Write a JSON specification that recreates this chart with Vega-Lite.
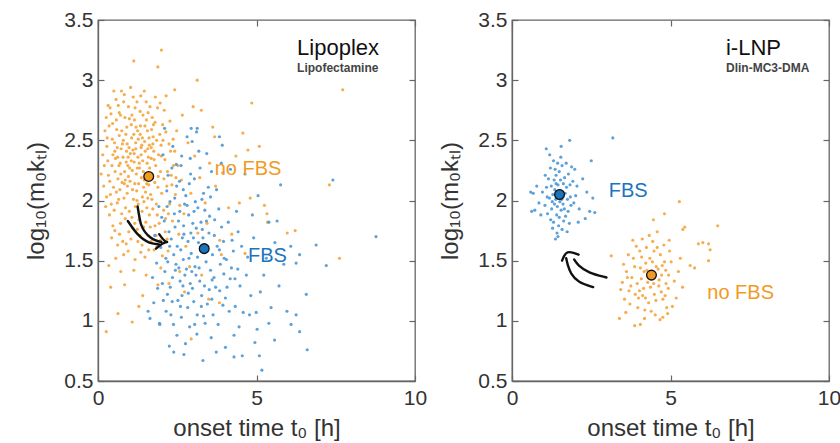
{
"$schema": "https://vega.github.io/schema/vega-lite/v6.json",
"padding": {"left": 24, "top": 8, "right": 5, "bottom": 0},
"background": "white",
"config": {
  "font": "Liberation Sans",
  "view": {"stroke": "#666", "strokeWidth": 1.3},
  "axis": {"domainColor": "#666", "domainWidth": 1.3, "tickColor": "#666", "tickSize": -6, "tickWidth": 1.2, "grid": false, "labelFontSize": 21, "titleFontSize": 24, "labelColor": "#333", "titleColor": "#333", "titleFontWeight": "normal", "labelFlush": false, "labelOverlap": false, "format": "~f"},
  "axisX": {"titlePadding": 8, "labelPadding": 12},
  "axisY": {"titlePadding": 15, "labelPadding": 11},
  "concat": {"spacing": 10}
},
"datasets": {
"LO": [
{"x":0.35,"y":2.62},{"x":0.52,"y":2.48},{"x":0.71,"y":2.71},{"x":0.88,"y":2.55},{"x":1.02,"y":2.39},{"x":1.15,"y":2.67},{"x":1.27,"y":2.51},{"x":1.41,"y":2.33},{"x":1.56,"y":2.58},{"x":1.68,"y":2.44},
{"x":0.44,"y":2.29},{"x":0.63,"y":2.18},{"x":0.79,"y":2.36},{"x":0.93,"y":2.12},{"x":1.08,"y":2.25},{"x":1.22,"y":2.08},{"x":1.37,"y":2.19},{"x":1.49,"y":2.41},{"x":1.63,"y":2.27},{"x":1.79,"y":2.15},
{"x":0.28,"y":2.45},{"x":0.57,"y":2.84},{"x":0.74,"y":2.91},{"x":0.96,"y":2.78},{"x":1.11,"y":2.86},{"x":1.33,"y":2.74},{"x":1.52,"y":2.82},{"x":1.71,"y":2.69},{"x":1.88,"y":2.77},{"x":2.04,"y":2.63},
{"x":0.39,"y":2.05},{"x":0.61,"y":1.98},{"x":0.82,"y":2.02},{"x":0.99,"y":1.91},{"x":1.18,"y":1.95},{"x":1.29,"y":1.84},{"x":1.45,"y":1.99},{"x":1.62,"y":1.88},{"x":1.84,"y":1.97},{"x":2.01,"y":2.06},
{"x":0.47,"y":1.79},{"x":0.68,"y":1.72},{"x":0.86,"y":1.85},{"x":1.04,"y":1.68},{"x":1.24,"y":1.76},{"x":1.39,"y":1.63},{"x":1.58,"y":1.71},{"x":1.77,"y":1.59},{"x":1.93,"y":1.81},{"x":2.12,"y":1.74},
{"x":0.55,"y":2.35},{"x":0.77,"y":2.47},{"x":0.91,"y":2.61},{"x":1.06,"y":2.52},{"x":1.19,"y":2.43},{"x":1.34,"y":2.62},{"x":1.47,"y":2.49},{"x":1.59,"y":2.36},{"x":1.74,"y":2.53},{"x":1.91,"y":2.38},
{"x":0.33,"y":2.21},{"x":0.49,"y":2.11},{"x":0.66,"y":2.29},{"x":0.84,"y":2.24},{"x":1.01,"y":2.16},{"x":1.14,"y":2.32},{"x":1.31,"y":2.27},{"x":1.44,"y":2.11},{"x":1.66,"y":2.05},{"x":1.82,"y":2.29},
{"x":0.22,"y":2.58},{"x":0.41,"y":2.72},{"x":0.59,"y":2.59},{"x":0.73,"y":2.43},{"x":0.89,"y":2.32},{"x":1.07,"y":2.71},{"x":1.25,"y":2.58},{"x":1.38,"y":2.46},{"x":1.53,"y":2.67},{"x":1.69,"y":2.59},
{"x":0.51,"y":1.92},{"x":0.69,"y":2.09},{"x":0.87,"y":1.94},{"x":1.12,"y":2.01},{"x":1.28,"y":2.14},{"x":1.43,"y":2.24},{"x":1.57,"y":2.02},{"x":1.73,"y":1.93},{"x":1.89,"y":2.11},{"x":2.07,"y":1.92},
{"x":0.62,"y":1.63},{"x":0.81,"y":1.55},{"x":0.97,"y":1.74},{"x":1.16,"y":1.81},{"x":1.35,"y":1.57},{"x":1.51,"y":1.82},{"x":1.67,"y":1.66},{"x":1.86,"y":1.62},{"x":2.03,"y":1.54},{"x":2.18,"y":1.68},
{"x":0.36,"y":1.88},{"x":0.45,"y":2.51},{"x":0.58,"y":2.67},{"x":0.72,"y":2.22},{"x":0.85,"y":2.69},{"x":0.98,"y":2.44},{"x":1.13,"y":2.55},{"x":1.26,"y":2.36},{"x":1.42,"y":2.71},{"x":1.61,"y":2.52},
{"x":1.76,"y":2.41},{"x":1.95,"y":2.55},{"x":2.11,"y":2.34},{"x":2.24,"y":2.47},{"x":2.31,"y":2.21},{"x":2.17,"y":2.12},{"x":2.26,"y":1.97},{"x":2.38,"y":2.29},{"x":2.44,"y":2.05},{"x":2.35,"y":1.83},
{"x":0.31,"y":2.33},{"x":0.53,"y":2.41},{"x":0.76,"y":2.15},{"x":0.94,"y":2.29},{"x":1.09,"y":2.09},{"x":1.21,"y":2.22},{"x":1.36,"y":2.38},{"x":1.54,"y":2.14},{"x":1.72,"y":2.21},{"x":1.97,"y":2.24},
{"x":0.26,"y":2.69},{"x":0.64,"y":2.79},{"x":0.83,"y":2.88},{"x":1.03,"y":2.94},{"x":1.23,"y":2.82},{"x":1.46,"y":2.91},{"x":1.64,"y":2.78},{"x":1.81,"y":2.86},{"x":2.09,"y":2.75},{"x":2.27,"y":2.66},
{"x":0.43,"y":1.69},{"x":0.56,"y":1.52},{"x":0.78,"y":1.66},{"x":0.95,"y":1.58},{"x":1.17,"y":1.51},{"x":1.32,"y":1.71},{"x":1.48,"y":1.53},{"x":1.65,"y":1.78},{"x":1.83,"y":1.71},{"x":2.21,"y":1.58},
{"x":0.18,"y":2.12},{"x":0.24,"y":1.95},{"x":0.15,"y":2.38},{"x":0.38,"y":2.77},{"x":0.67,"y":2.54},{"x":0.92,"y":2.47},{"x":1.05,"y":2.33},{"x":1.20,"y":2.61},{"x":1.40,"y":2.03},{"x":1.55,"y":2.31},
{"x":1.75,"y":2.63},{"x":1.99,"y":2.46},{"x":2.14,"y":2.57},{"x":2.42,"y":2.41},{"x":2.52,"y":2.29},{"x":2.48,"y":2.58},{"x":2.58,"y":1.96},{"x":2.63,"y":2.17},{"x":2.71,"y":1.89},{"x":2.55,"y":1.72},
{"x":2.84,"y":2.48},{"x":3.05,"y":2.37},{"x":3.21,"y":2.19},{"x":2.93,"y":2.06},{"x":3.38,"y":1.98},{"x":3.52,"y":2.31},{"x":3.71,"y":2.12},{"x":3.44,"y":1.81},{"x":3.93,"y":2.23},{"x":4.12,"y":1.94},
{"x":2.77,"y":1.62},{"x":3.15,"y":1.73},{"x":4.35,"y":2.37},{"x":3.62,"y":2.61},{"x":2.66,"y":2.71},{"x":3.84,"y":1.67},{"x":4.22,"y":1.72},{"x":2.89,"y":1.45},{"x":3.27,"y":1.38},{"x":2.73,"y":1.24},
{"x":4.64,"y":1.56},{"x":3.49,"y":1.18},{"x":2.58,"y":1.41},{"x":1.98,"y":1.44},{"x":1.52,"y":1.38},{"x":1.13,"y":1.42},{"x":0.72,"y":1.41},{"x":1.41,"y":1.21},{"x":2.24,"y":1.31},{"x":0.63,"y":1.06},
{"x":2.0,"y":3.25},{"x":1.13,"y":3.16},{"x":1.89,"y":3.11},{"x":3.13,"y":3.0},{"x":7.72,"y":2.92},{"x":4.85,"y":2.81},{"x":4.57,"y":2.56},{"x":5.09,"y":2.45},{"x":4.73,"y":2.42},{"x":7.30,"y":2.13},
{"x":4.80,"y":2.02},{"x":4.46,"y":1.98},{"x":5.25,"y":1.96},{"x":5.33,"y":1.89},{"x":5.35,"y":1.82},{"x":5.97,"y":1.73},{"x":6.22,"y":1.75},{"x":7.62,"y":1.52},{"x":3.89,"y":1.55},{"x":2.94,"y":0.85},
{"x":0.26,"y":0.91},{"x":1.08,"y":0.99},{"x":1.29,"y":1.12},{"x":0.40,"y":1.28},{"x":0.34,"y":1.46},{"x":0.84,"y":1.30},{"x":1.89,"y":1.30},{"x":3.83,"y":1.15},{"x":0.10,"y":2.22},{"x":3.68,"y":2.53},
{"x":3.26,"y":2.75},{"x":3.0,"y":2.78},{"x":2.42,"y":2.92},{"x":2.15,"y":2.87},
{"x":0.29,"y":2.52},{"x":0.46,"y":2.64},{"x":0.61,"y":2.44},{"x":0.75,"y":2.58},{"x":0.9,"y":2.41},{"x":1.05,"y":2.63},{"x":1.19,"y":2.48},{"x":1.33,"y":2.55},{"x":1.48,"y":2.62},{"x":1.62,"y":2.46},
{"x":0.37,"y":2.16},{"x":0.54,"y":2.24},{"x":0.7,"y":2.31},{"x":0.86,"y":2.17},{"x":1.0,"y":2.27},{"x":1.16,"y":2.14},{"x":1.3,"y":2.31},{"x":1.46,"y":2.17},{"x":1.6,"y":2.13},{"x":1.77,"y":2.34},
{"x":0.42,"y":1.97},{"x":0.58,"y":2.07},{"x":0.75,"y":1.89},{"x":0.92,"y":2.06},{"x":1.07,"y":1.86},{"x":1.23,"y":2.0},{"x":1.39,"y":1.91},{"x":1.54,"y":1.94},{"x":1.7,"y":2.01},{"x":1.87,"y":1.88},
{"x":0.32,"y":2.79},{"x":0.5,"y":2.91},{"x":0.67,"y":2.73},{"x":0.81,"y":2.82},{"x":0.99,"y":2.68},{"x":1.17,"y":2.77},{"x":1.35,"y":2.87},{"x":1.58,"y":2.73},{"x":1.8,"y":2.65},{"x":1.96,"y":2.81},
{"x":0.53,"y":1.75},{"x":0.71,"y":1.81},{"x":0.89,"y":1.64},{"x":1.1,"y":1.77},{"x":1.26,"y":1.66},{"x":1.44,"y":1.78},{"x":1.6,"y":1.59},{"x":1.8,"y":1.79},{"x":1.97,"y":1.67},{"x":2.13,"y":1.85},
{"x":0.2,"y":2.29},{"x":0.27,"y":2.03},{"x":0.47,"y":2.38},{"x":0.62,"y":2.36},{"x":0.8,"y":2.5},{"x":0.95,"y":2.36},{"x":1.1,"y":2.42},{"x":1.24,"y":2.27},{"x":1.4,"y":2.52},{"x":1.57,"y":2.43},
{"x":1.73,"y":2.47},{"x":1.85,"y":2.5},{"x":2.0,"y":2.37},{"x":2.19,"y":2.24},{"x":2.29,"y":2.41},{"x":2.08,"y":2.18},{"x":2.22,"y":1.89},{"x":2.33,"y":2.13},{"x":2.46,"y":2.19},{"x":2.37,"y":2.51},
{"x":0.65,"y":2.01},{"x":0.96,"y":2.2},{"x":1.27,"y":1.97},{"x":1.5,"y":2.07},{"x":1.9,"y":2.2},{"x":2.05,"y":2.5},{"x":0.83,"y":2.14},{"x":1.14,"y":2.39},{"x":1.36,"y":2.44},{"x":1.68,"y":2.35}
],
"LB": [
{"x":2.05,"y":2.38},{"x":2.21,"y":2.21},{"x":2.36,"y":2.45},{"x":2.48,"y":2.12},{"x":2.62,"y":2.29},{"x":2.77,"y":2.04},{"x":2.91,"y":2.35},{"x":3.04,"y":2.18},{"x":3.18,"y":2.41},{"x":3.33,"y":2.06},
{"x":1.92,"y":1.95},{"x":2.09,"y":1.83},{"x":2.27,"y":1.99},{"x":2.43,"y":1.78},{"x":2.58,"y":1.91},{"x":2.71,"y":1.72},{"x":2.86,"y":1.88},{"x":3.01,"y":1.69},{"x":3.15,"y":1.94},{"x":3.29,"y":1.76},
{"x":1.98,"y":1.61},{"x":2.14,"y":1.52},{"x":2.31,"y":1.68},{"x":2.46,"y":1.47},{"x":2.61,"y":1.59},{"x":2.79,"y":1.43},{"x":2.94,"y":1.56},{"x":3.09,"y":1.38},{"x":3.24,"y":1.61},{"x":3.41,"y":1.49},
{"x":2.03,"y":1.31},{"x":2.19,"y":1.22},{"x":2.35,"y":1.36},{"x":2.52,"y":1.17},{"x":2.68,"y":1.29},{"x":2.83,"y":1.11},{"x":2.98,"y":1.27},{"x":3.13,"y":1.05},{"x":3.27,"y":1.21},{"x":3.45,"y":1.14},
{"x":3.52,"y":1.87},{"x":3.67,"y":1.71},{"x":3.81,"y":1.93},{"x":3.96,"y":1.66},{"x":4.11,"y":1.82},{"x":4.27,"y":1.58},{"x":4.42,"y":1.74},{"x":3.58,"y":2.24},{"x":3.74,"y":2.09},{"x":3.89,"y":2.31},
{"x":3.55,"y":1.42},{"x":3.71,"y":1.28},{"x":3.86,"y":1.47},{"x":4.02,"y":1.19},{"x":4.17,"y":1.35},{"x":4.33,"y":1.12},{"x":4.48,"y":1.29},{"x":3.63,"y":1.05},{"x":3.79,"y":0.97},{"x":3.94,"y":1.13},
{"x":2.24,"y":1.74},{"x":2.39,"y":1.55},{"x":2.54,"y":1.83},{"x":2.69,"y":1.51},{"x":2.84,"y":1.66},{"x":2.99,"y":1.81},{"x":3.14,"y":1.53},{"x":3.31,"y":1.69},{"x":3.46,"y":1.62},{"x":3.61,"y":1.55},
{"x":2.42,"y":2.02},{"x":2.57,"y":2.16},{"x":2.73,"y":1.97},{"x":2.88,"y":2.14},{"x":3.07,"y":1.99},{"x":3.22,"y":2.27},{"x":3.37,"y":1.92},{"x":3.48,"y":2.11},{"x":2.33,"y":2.27},{"x":2.97,"y":2.49},
{"x":2.11,"y":1.41},{"x":2.28,"y":1.28},{"x":2.44,"y":1.42},{"x":2.59,"y":1.33},{"x":2.74,"y":1.38},{"x":2.91,"y":1.31},{"x":3.06,"y":1.45},{"x":3.21,"y":1.33},{"x":3.36,"y":1.29},{"x":3.51,"y":1.26},
{"x":2.15,"y":1.08},{"x":2.38,"y":0.97},{"x":2.63,"y":1.03},{"x":2.89,"y":0.95},{"x":3.12,"y":0.89},{"x":3.38,"y":0.98},{"x":3.57,"y":0.86},{"x":2.49,"y":0.88},{"x":2.76,"y":0.81},{"x":3.02,"y":1.16},
{"x":1.85,"y":1.48},{"x":1.79,"y":1.71},{"x":1.88,"y":1.27},{"x":1.76,"y":1.15},{"x":2.01,"y":1.86},{"x":2.17,"y":2.08},{"x":2.64,"y":2.37},{"x":2.81,"y":2.53},{"x":3.11,"y":2.57},{"x":3.43,"y":2.39},
{"x":4.05,"y":1.51},{"x":4.21,"y":1.44},{"x":4.37,"y":1.91},{"x":4.53,"y":1.62},{"x":4.68,"y":1.38},{"x":4.82,"y":1.21},{"x":4.58,"y":1.07},{"x":4.72,"y":1.53},{"x":4.91,"y":1.69},{"x":4.45,"y":0.95},
{"x":3.68,"y":1.84},{"x":3.83,"y":1.59},{"x":3.97,"y":1.39},{"x":4.14,"y":1.08},{"x":4.29,"y":0.88},{"x":4.41,"y":1.43},{"x":3.25,"y":1.82},{"x":2.66,"y":1.69},{"x":2.93,"y":1.73},{"x":3.17,"y":1.65},
{"x":5.12,"y":1.24},{"x":5.31,"y":1.52},{"x":5.46,"y":1.11},{"x":5.02,"y":0.93},{"x":5.23,"y":1.38},{"x":4.87,"y":1.88},{"x":5.05,"y":2.04},{"x":4.64,"y":2.22},{"x":5.58,"y":1.65},{"x":5.71,"y":1.29},
{"x":5.86,"y":1.47},{"x":5.39,"y":0.98},{"x":4.95,"y":0.82},{"x":4.18,"y":2.26},{"x":3.92,"y":2.46},{"x":4.02,"y":0.78},{"x":3.73,"y":0.74},{"x":3.31,"y":0.67},{"x":2.71,"y":0.72},{"x":4.55,"y":0.71},
{"x":1.72,"y":1.36},{"x":1.64,"y":1.02},{"x":1.95,"y":0.97},{"x":2.25,"y":0.79},{"x":5.96,"y":1.08},{"x":6.08,"y":1.62},{"x":5.65,"y":1.83},{"x":4.78,"y":1.05},
{"x":8.77,"y":1.70},{"x":7.41,"y":2.17},{"x":6.88,"y":1.63},{"x":7.20,"y":1.46},{"x":6.36,"y":1.55},{"x":6.25,"y":1.48},{"x":6.57,"y":1.22},{"x":6.25,"y":1.05},{"x":6.36,"y":0.91},{"x":6.09,"y":0.97},
{"x":6.60,"y":0.76},{"x":5.57,"y":0.84},{"x":5.09,"y":0.71},{"x":5.17,"y":0.59},{"x":4.29,"y":0.70},{"x":2.39,"y":0.74},{"x":5.76,"y":2.13},{"x":5.39,"y":1.82},{"x":4.99,"y":1.07},{"x":3.13,"y":2.60},
{"x":2.94,"y":2.60},{"x":2.10,"y":2.60},{"x":3.83,"y":2.53},{"x":1.58,"y":1.08},{"x":1.94,"y":0.98},
{"x":2.26,"y":1.62},{"x":2.41,"y":1.89},{"x":2.55,"y":1.44},{"x":2.7,"y":1.79},{"x":2.87,"y":1.52},{"x":3.03,"y":1.91},{"x":3.19,"y":1.44},{"x":3.35,"y":1.58},{"x":3.5,"y":1.73},{"x":3.66,"y":1.36},
{"x":2.18,"y":1.95},{"x":2.34,"y":1.16},{"x":2.5,"y":1.62},{"x":2.65,"y":1.21},{"x":2.81,"y":1.96},{"x":2.96,"y":1.41},{"x":3.1,"y":1.77},{"x":3.26,"y":1.12},{"x":3.42,"y":1.83},{"x":3.59,"y":1.18},
{"x":3.76,"y":1.62},{"x":3.9,"y":1.78},{"x":4.07,"y":1.28},{"x":4.23,"y":1.67},{"x":2.47,"y":2.3},{"x":2.69,"y":2.09},{"x":2.92,"y":2.22},{"x":3.28,"y":2.01},{"x":3.55,"y":2.03},{"x":3.84,"y":1.25},
{"x":2.06,"y":1.17},{"x":2.3,"y":1.05},{"x":2.6,"y":1.12},{"x":2.85,"y":1.23},{"x":3.05,"y":0.97},{"x":3.33,"y":1.04},{"x":3.6,"y":1.34},{"x":3.98,"y":1.52},{"x":4.32,"y":1.35},{"x":2.2,"y":1.49}
],
"RB": [
{"x":1.52,"y":2.08},{"x":1.38,"y":2.01},{"x":1.61,"y":1.97},{"x":1.45,"y":2.13},{"x":1.29,"y":2.05},{"x":1.72,"y":2.11},{"x":1.55,"y":1.92},{"x":1.41,"y":1.88},{"x":1.66,"y":2.19},{"x":1.33,"y":2.17},
{"x":1.18,"y":2.02},{"x":1.84,"y":2.03},{"x":1.49,"y":2.24},{"x":1.25,"y":1.93},{"x":1.77,"y":1.91},{"x":1.58,"y":2.29},{"x":1.09,"y":2.11},{"x":1.92,"y":2.16},{"x":1.36,"y":2.26},{"x":1.63,"y":1.83},
{"x":1.47,"y":1.79},{"x":1.22,"y":1.84},{"x":1.81,"y":1.81},{"x":1.04,"y":1.96},{"x":2.01,"y":2.04},{"x":1.54,"y":2.36},{"x":1.31,"y":2.33},{"x":1.71,"y":2.31},{"x":0.96,"y":2.07},{"x":2.12,"y":1.93},
{"x":1.43,"y":1.95},{"x":1.57,"y":2.01},{"x":1.35,"y":2.09},{"x":1.68,"y":2.06},{"x":1.27,"y":1.99},{"x":1.49,"y":1.86},{"x":1.62,"y":2.14},{"x":1.15,"y":2.18},{"x":1.86,"y":1.96},{"x":1.39,"y":2.21},
{"x":0.85,"y":1.98},{"x":0.78,"y":2.12},{"x":0.67,"y":2.06},{"x":2.23,"y":2.18},{"x":2.36,"y":2.07},{"x":2.45,"y":1.91},{"x":2.31,"y":1.85},{"x":1.98,"y":2.26},{"x":1.12,"y":1.89},{"x":1.88,"y":2.28},
{"x":1.42,"y":1.73},{"x":1.37,"y":1.68},{"x":1.58,"y":1.76},{"x":1.28,"y":1.77},{"x":1.74,"y":1.74},{"x":1.21,"y":2.27},{"x":1.05,"y":2.21},{"x":0.91,"y":1.88},{"x":0.72,"y":1.92},{"x":2.09,"y":1.82},
{"x":1.55,"y":2.45},{"x":1.19,"y":2.38},{"x":1.44,"y":2.31},{"x":1.78,"y":2.22},{"x":2.05,"y":2.12},{"x":1.51,"y":1.99},{"x":1.34,"y":1.97},{"x":1.65,"y":1.93},{"x":1.46,"y":2.06},{"x":1.59,"y":2.07},
{"x":1.24,"y":2.12},{"x":1.83,"y":2.13},{"x":1.11,"y":2.03},{"x":1.95,"y":1.98},{"x":1.69,"y":1.87},{"x":1.31,"y":1.82},{"x":1.53,"y":2.17},{"x":1.39,"y":2.14},{"x":1.75,"y":2.01},{"x":0.62,"y":1.91},
{"x":3.18,"y":2.52},{"x":1.82,"y":2.50},{"x":1.08,"y":2.43},{"x":2.50,"y":2.33},{"x":2.61,"y":1.90},{"x":0.59,"y":2.07},{"x":1.45,"y":1.70},{"x":2.55,"y":2.02}
],
"RO": [
{"x":4.41,"y":1.39},{"x":4.28,"y":1.32},{"x":4.55,"y":1.45},{"x":4.17,"y":1.41},{"x":4.63,"y":1.29},{"x":4.35,"y":1.52},{"x":4.49,"y":1.22},{"x":4.08,"y":1.35},{"x":4.72,"y":1.38},{"x":4.22,"y":1.48},
{"x":3.95,"y":1.31},{"x":4.85,"y":1.42},{"x":4.12,"y":1.21},{"x":4.68,"y":1.55},{"x":3.87,"y":1.45},{"x":4.93,"y":1.27},{"x":4.31,"y":1.15},{"x":4.58,"y":1.61},{"x":3.78,"y":1.36},{"x":5.02,"y":1.49},
{"x":4.03,"y":1.58},{"x":4.76,"y":1.18},{"x":3.69,"y":1.25},{"x":4.44,"y":1.66},{"x":3.83,"y":1.52},{"x":5.12,"y":1.33},{"x":4.19,"y":1.09},{"x":4.88,"y":1.11},{"x":3.61,"y":1.41},{"x":4.52,"y":1.05},
{"x":4.37,"y":1.28},{"x":4.64,"y":1.34},{"x":4.15,"y":1.27},{"x":4.26,"y":1.42},{"x":4.47,"y":1.31},{"x":3.99,"y":1.19},{"x":4.81,"y":1.49},{"x":3.92,"y":1.62},{"x":4.71,"y":1.24},{"x":4.05,"y":1.44},
{"x":3.55,"y":1.18},{"x":3.48,"y":1.32},{"x":3.72,"y":1.14},{"x":3.59,"y":1.07},{"x":5.18,"y":1.19},{"x":5.25,"y":1.41},{"x":4.97,"y":1.58},{"x":5.06,"y":1.12},{"x":3.81,"y":1.67},{"x":4.33,"y":1.71},
{"x":4.58,"y":1.74},{"x":4.96,"y":1.67},{"x":4.24,"y":1.61},{"x":3.67,"y":1.55},{"x":4.11,"y":1.68},{"x":4.79,"y":1.63},{"x":5.31,"y":1.52},{"x":4.39,"y":1.08},{"x":4.67,"y":1.01},{"x":4.18,"y":1.02},
{"x":3.97,"y":1.11},{"x":3.89,"y":1.22},{"x":4.54,"y":1.17},{"x":4.86,"y":1.31},{"x":4.29,"y":1.37},{"x":4.61,"y":1.43},{"x":3.75,"y":1.29},{"x":4.43,"y":1.49},{"x":4.09,"y":1.53},{"x":4.94,"y":1.38},
{"x":3.52,"y":1.47},{"x":3.43,"y":1.26},{"x":5.38,"y":1.28},{"x":4.91,"y":1.06},{"x":4.48,"y":1.58},{"x":4.02,"y":1.25},{"x":4.74,"y":1.46},{"x":3.64,"y":1.36},{"x":4.83,"y":1.21},{"x":4.21,"y":1.19},
{"x":5.28,"y":1.99},{"x":4.81,"y":1.89},{"x":6.49,"y":1.79},{"x":5.39,"y":1.76},{"x":5.88,"y":1.64},{"x":6.2,"y":1.64},{"x":6.25,"y":1.59},{"x":6.2,"y":1.50},{"x":5.76,"y":1.44},{"x":3.13,"y":1.54},
{"x":3.39,"y":1.02},{"x":3.87,"y":0.96},{"x":4.05,"y":0.97},{"x":4.76,"y":1.03},{"x":5.45,"y":1.78},{"x":6.02,"y":1.65},{"x":5.62,"y":1.46},{"x":4.46,"y":1.84}
]
},
"hconcat": [
{
  "width": 317, "height": 361,
  "resolve": {"axis": {"x": "independent", "y": "independent"}},
  "layer": [
    {"data": {"name": "LO"}, "mark": {"type": "circle", "size": 10, "opacity": 0.9, "color": "#F4A43A"},
     "encoding": {
       "x": {"field": "x", "type": "quantitative", "scale": {"domain": [0, 10], "nice": false, "zero": false}, "axis": {"values": [0, 5, 10], "title": "onset time t₀ [h]"}},
       "y": {"field": "y", "type": "quantitative", "scale": {"domain": [0.5, 3.5], "nice": false, "zero": false}, "axis": {"values": [0.5, 1, 1.5, 2, 2.5, 3, 3.5], "title": "log₁₀(m₀kₜₗ)"}}}},
    {"data": {"name": "LB"}, "mark": {"type": "circle", "size": 10, "opacity": 0.9, "color": "#4A97D5"},
     "encoding": {
       "x": {"field": "x", "type": "quantitative", "scale": {"domain": [0, 10], "nice": false, "zero": false}, "axis": {"orient": "top", "values": [0, 5, 10], "labels": false, "title": null, "domain": false}},
       "y": {"field": "y", "type": "quantitative", "scale": {"domain": [0.5, 3.5], "nice": false, "zero": false}, "axis": {"orient": "right", "values": [0.5, 1, 1.5, 2, 2.5, 3, 3.5], "labels": false, "title": null, "domain": false}}}},
    {"data": {"values": [{"s": "a", "i": 0, "x": 1.25, "y": 1.95}, {"s": "a", "i": 1, "x": 1.36, "y": 1.80}, {"s": "a", "i": 2, "x": 1.67, "y": 1.69}, {"s": "a", "i": 3, "x": 2.0, "y": 1.655},
                         {"s": "b", "i": 0, "x": 0.94, "y": 1.83}, {"s": "b", "i": 1, "x": 1.25, "y": 1.72}, {"s": "b", "i": 2, "x": 1.62, "y": 1.65}, {"s": "b", "i": 3, "x": 1.93, "y": 1.635},
                         {"s": "h", "i": 0, "x": 1.93, "y": 1.72}, {"s": "h", "i": 1, "x": 2.18, "y": 1.655}, {"s": "h", "i": 2, "x": 1.83, "y": 1.60}]},
     "mark": {"type": "line", "color": "#111", "strokeWidth": 2.4, "interpolate": "monotone", "strokeCap": "round", "strokeJoin": "round"},
     "encoding": {"x": {"field": "x", "type": "quantitative", "scale": {"domain": [0, 10], "nice": false, "zero": false}, "axis": null}, "y": {"field": "y", "type": "quantitative", "scale": {"domain": [0.5, 3.5], "nice": false, "zero": false}, "axis": null}, "detail": {"field": "s"}, "order": {"field": "i"}}},
    {"data": {"values": [{"x": 1.6, "y": 2.2, "g": "o"}, {"x": 3.35, "y": 1.6, "g": "b"}]},
     "mark": {"type": "circle", "size": 95, "opacity": 1, "stroke": "#111", "strokeWidth": 1.3},
     "encoding": {"x": {"field": "x", "type": "quantitative", "scale": {"domain": [0, 10], "nice": false, "zero": false}, "axis": null}, "y": {"field": "y", "type": "quantitative", "scale": {"domain": [0.5, 3.5], "nice": false, "zero": false}, "axis": null},
       "color": {"field": "g", "type": "nominal", "scale": {"domain": ["o", "b"], "range": ["#F29A1F", "#1C74BC"]}, "legend": null}}},
    {"data": {"values": [{"x": 3.68, "y": 2.26, "t": "no FBS", "g": "o"}, {"x": 4.73, "y": 1.54, "t": "FBS", "g": "b"}]},
     "mark": {"type": "text", "fontSize": 20, "align": "left", "baseline": "middle"},
     "encoding": {"x": {"field": "x", "type": "quantitative", "scale": {"domain": [0, 10], "nice": false, "zero": false}, "axis": null}, "y": {"field": "y", "type": "quantitative", "scale": {"domain": [0.5, 3.5], "nice": false, "zero": false}, "axis": null}, "text": {"field": "t"},
       "color": {"field": "g", "type": "nominal", "scale": {"domain": ["o", "b"], "range": ["#F39A20", "#2A7DC3"]}, "legend": null}}},
    {"data": {"values": [{"x": 6.28, "y": 3.27, "t": "Lipoplex"}]},
     "mark": {"type": "text", "fontSize": 22, "align": "left", "baseline": "middle", "color": "#111"},
     "encoding": {"x": {"field": "x", "type": "quantitative", "scale": {"domain": [0, 10], "nice": false, "zero": false}, "axis": null}, "y": {"field": "y", "type": "quantitative", "scale": {"domain": [0.5, 3.5], "nice": false, "zero": false}, "axis": null}, "text": {"field": "t"}}},
    {"data": {"values": [{"x": 6.28, "y": 3.10, "t": "Lipofectamine"}]},
     "mark": {"type": "text", "fontSize": 12, "fontWeight": "bold", "align": "left", "baseline": "middle", "color": "#444"},
     "encoding": {"x": {"field": "x", "type": "quantitative", "scale": {"domain": [0, 10], "nice": false, "zero": false}, "axis": null}, "y": {"field": "y", "type": "quantitative", "scale": {"domain": [0.5, 3.5], "nice": false, "zero": false}, "axis": null}, "text": {"field": "t"}}}
  ]
},
{
  "width": 317, "height": 361,
  "resolve": {"axis": {"x": "independent", "y": "independent"}},
  "layer": [
    {"data": {"name": "RO"}, "mark": {"type": "circle", "size": 10, "opacity": 0.9, "color": "#F4A43A"},
     "encoding": {
       "x": {"field": "x", "type": "quantitative", "scale": {"domain": [0, 10], "nice": false, "zero": false}, "axis": {"values": [0, 5, 10], "title": "onset time t₀ [h]"}},
       "y": {"field": "y", "type": "quantitative", "scale": {"domain": [0.5, 3.5], "nice": false, "zero": false}, "axis": {"values": [0.5, 1, 1.5, 2, 2.5, 3, 3.5], "title": "log₁₀(m₀kₜₗ)"}}}},
    {"data": {"name": "RB"}, "mark": {"type": "circle", "size": 10, "opacity": 0.9, "color": "#4A97D5"},
     "encoding": {
       "x": {"field": "x", "type": "quantitative", "scale": {"domain": [0, 10], "nice": false, "zero": false}, "axis": {"orient": "top", "values": [0, 5, 10], "labels": false, "title": null, "domain": false}},
       "y": {"field": "y", "type": "quantitative", "scale": {"domain": [0.5, 3.5], "nice": false, "zero": false}, "axis": {"orient": "right", "values": [0.5, 1, 1.5, 2, 2.5, 3, 3.5], "labels": false, "title": null, "domain": false}}}},
    {"data": {"values": [{"s": "a", "i": 0, "x": 2.56, "y": 1.28}, {"s": "a", "i": 1, "x": 2.08, "y": 1.32}, {"s": "a", "i": 2, "x": 1.85, "y": 1.39}, {"s": "a", "i": 3, "x": 1.75, "y": 1.47}, {"s": "a", "i": 4, "x": 1.71, "y": 1.52},
                         {"s": "b", "i": 0, "x": 2.98, "y": 1.36}, {"s": "b", "i": 1, "x": 2.40, "y": 1.40}, {"s": "b", "i": 2, "x": 2.08, "y": 1.46}, {"s": "b", "i": 3, "x": 1.96, "y": 1.51},
                         {"s": "h", "i": 0, "x": 1.58, "y": 1.50}, {"s": "h", "i": 1, "x": 1.71, "y": 1.59}, {"s": "h", "i": 2, "x": 2.10, "y": 1.55}]},
     "mark": {"type": "line", "color": "#111", "strokeWidth": 2.4, "interpolate": "basis", "strokeCap": "round", "strokeJoin": "round"},
     "encoding": {"x": {"field": "x", "type": "quantitative", "scale": {"domain": [0, 10], "nice": false, "zero": false}, "axis": null}, "y": {"field": "y", "type": "quantitative", "scale": {"domain": [0.5, 3.5], "nice": false, "zero": false}, "axis": null}, "detail": {"field": "s"}, "order": {"field": "i"}}},
    {"data": {"values": [{"x": 1.5, "y": 2.05, "g": "b"}, {"x": 4.4, "y": 1.38, "g": "o"}]},
     "mark": {"type": "circle", "size": 95, "opacity": 1, "stroke": "#111", "strokeWidth": 1.3},
     "encoding": {"x": {"field": "x", "type": "quantitative", "scale": {"domain": [0, 10], "nice": false, "zero": false}, "axis": null}, "y": {"field": "y", "type": "quantitative", "scale": {"domain": [0.5, 3.5], "nice": false, "zero": false}, "axis": null},
       "color": {"field": "g", "type": "nominal", "scale": {"domain": ["o", "b"], "range": ["#F29A1F", "#1C74BC"]}, "legend": null}}},
    {"data": {"values": [{"x": 6.16, "y": 1.23, "t": "no FBS", "g": "o"}, {"x": 3.05, "y": 2.08, "t": "FBS", "g": "b"}]},
     "mark": {"type": "text", "fontSize": 20, "align": "left", "baseline": "middle"},
     "encoding": {"x": {"field": "x", "type": "quantitative", "scale": {"domain": [0, 10], "nice": false, "zero": false}, "axis": null}, "y": {"field": "y", "type": "quantitative", "scale": {"domain": [0.5, 3.5], "nice": false, "zero": false}, "axis": null}, "text": {"field": "t"},
       "color": {"field": "g", "type": "nominal", "scale": {"domain": ["o", "b"], "range": ["#F39A20", "#2A7DC3"]}, "legend": null}}},
    {"data": {"values": [{"x": 6.75, "y": 3.27, "t": "i-LNP"}]},
     "mark": {"type": "text", "fontSize": 22, "align": "left", "baseline": "middle", "color": "#111"},
     "encoding": {"x": {"field": "x", "type": "quantitative", "scale": {"domain": [0, 10], "nice": false, "zero": false}, "axis": null}, "y": {"field": "y", "type": "quantitative", "scale": {"domain": [0.5, 3.5], "nice": false, "zero": false}, "axis": null}, "text": {"field": "t"}}},
    {"data": {"values": [{"x": 6.75, "y": 3.10, "t": "Dlin-MC3-DMA"}]},
     "mark": {"type": "text", "fontSize": 12, "fontWeight": "bold", "align": "left", "baseline": "middle", "color": "#444"},
     "encoding": {"x": {"field": "x", "type": "quantitative", "scale": {"domain": [0, 10], "nice": false, "zero": false}, "axis": null}, "y": {"field": "y", "type": "quantitative", "scale": {"domain": [0.5, 3.5], "nice": false, "zero": false}, "axis": null}, "text": {"field": "t"}}}
  ]
}
]
}
